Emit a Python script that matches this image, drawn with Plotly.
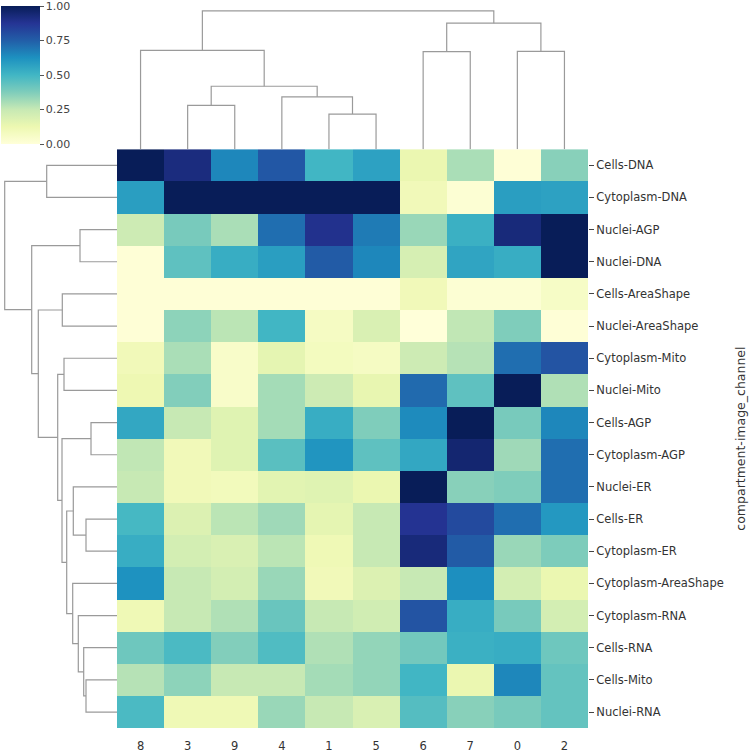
import plotly.graph_objects as go

# ---------------- data ----------------
col_labels = ["8", "3", "9", "4", "1", "5", "6", "7", "0", "2"]
row_labels = [
    "Cells-DNA", "Cytoplasm-DNA", "Nuclei-AGP", "Nuclei-DNA", "Cells-AreaShape",
    "Nuclei-AreaShape", "Cytoplasm-Mito", "Nuclei-Mito", "Cells-AGP", "Cytoplasm-AGP",
    "Nuclei-ER", "Cells-ER", "Cytoplasm-ER", "Cytoplasm-AreaShape", "Cytoplasm-RNA",
    "Cells-RNA", "Cells-Mito", "Nuclei-RNA",
]
values = [
    [1.00, 0.92, 0.65, 0.77, 0.50, 0.57, 0.13, 0.30, 0.01, 0.36],
    [0.58, 1.00, 1.00, 1.00, 1.00, 1.00, 0.10, 0.02, 0.58, 0.57],
    [0.23, 0.39, 0.30, 0.71, 0.89, 0.68, 0.33, 0.52, 0.93, 1.00],
    [0.01, 0.44, 0.53, 0.58, 0.76, 0.65, 0.20, 0.56, 0.53, 1.00],
    [0.01, 0.01, 0.01, 0.01, 0.01, 0.01, 0.10, 0.02, 0.02, 0.06],
    [0.01, 0.35, 0.27, 0.50, 0.07, 0.19, 0.00, 0.26, 0.375, 0.01],
    [0.10, 0.30, 0.05, 0.15, 0.08, 0.07, 0.23, 0.28, 0.71, 0.78],
    [0.12, 0.37, 0.05, 0.31, 0.23, 0.14, 0.72, 0.44, 1.00, 0.29],
    [0.55, 0.25, 0.17, 0.31, 0.53, 0.375, 0.64, 1.00, 0.39, 0.65],
    [0.26, 0.10, 0.17, 0.45, 0.61, 0.44, 0.55, 0.95, 0.32, 0.71],
    [0.25, 0.10, 0.09, 0.16, 0.17, 0.13, 1.00, 0.36, 0.375, 0.71],
    [0.49, 0.18, 0.27, 0.32, 0.15, 0.25, 0.88, 0.81, 0.71, 0.60],
    [0.53, 0.21, 0.19, 0.27, 0.11, 0.25, 0.93, 0.76, 0.33, 0.38],
    [0.62, 0.25, 0.21, 0.33, 0.10, 0.18, 0.25, 0.63, 0.21, 0.13],
    [0.11, 0.25, 0.29, 0.42, 0.25, 0.22, 0.78, 0.53, 0.39, 0.21],
    [0.41, 0.48, 0.37, 0.47, 0.29, 0.34, 0.40, 0.52, 0.53, 0.41],
    [0.28, 0.35, 0.25, 0.25, 0.31, 0.34, 0.50, 0.13, 0.65, 0.43],
    [0.48, 0.11, 0.11, 0.33, 0.25, 0.19, 0.46, 0.36, 0.39, 0.43],
]

# linkage rows: (child_a, child_b, height); leaves = display positions,
# new clusters get ids n, n+1, ... in order
col_linkage = [
    (1, 2, 44.0), (4, 5, 35.3), (3, 11, 52.7), (10, 12, 63.3), (0, 13, 99.3),
    (6, 7, 98.0), (8, 9, 98.3), (15, 16, 126.7), (14, 17, 139.0),
]
row_linkage = [
    (0, 1, 70.3), (2, 3, 37.0), (4, 5, 54.7), (6, 7, 53.0), (8, 9, 26.0),
    (11, 12, 31.0), (10, 23, 43.7), (16, 17, 31.0), (15, 25, 33.3), (14, 26, 38.7),
    (13, 27, 44.3), (24, 28, 50.3), (22, 29, 55.0), (21, 30, 59.3), (20, 31, 78.7),
    (19, 32, 85.3), (18, 33, 112.3),
]

colorscale = [
    [0.0, "#ffffd9"], [0.125, "#edf8b1"], [0.25, "#c7e9b4"], [0.375, "#7fcdbb"],
    [0.5, "#41b6c4"], [0.625, "#1d91c0"], [0.75, "#225ea8"], [0.875, "#253494"],
    [1.0, "#081d58"],
]
cbar_ticks = [0.0, 0.25, 0.5, 0.75, 1.0]


def dendro_segments(linkage, n):
    pos = {i: float(i) for i in range(n)}
    hgt = {i: 0.0 for i in range(n)}
    a_list, h_list = [], []
    for k, (a, b, h) in enumerate(linkage):
        cid = n + k
        a_list += [pos[a], pos[a], pos[b], pos[b], None]
        h_list += [hgt[a], h, h, hgt[b], None]
        pos[cid] = (pos[a] + pos[b]) / 2
        hgt[cid] = h
    return a_list, h_list


W, H = 750, 753
hm_x0, hm_x1 = 117 / W, 588 / W
hm_y0, hm_y1 = 1 - 732 / H, 1 - 150 / H

fig = go.Figure()

fig.add_trace(go.Heatmap(
    z=values, x=list(range(len(col_labels))), y=list(range(len(row_labels))),
    colorscale=colorscale, zmin=0, zmax=1, xgap=0, ygap=0,
    xaxis="x", yaxis="y",
    colorbar=dict(
        x=1 / W, xanchor="left", y=1 - 75.5 / H, yanchor="middle",
        len=139 / H, lenmode="fraction", thickness=39, thicknessmode="pixels",
        outlinewidth=0, xpad=0, ypad=0,
        tickvals=cbar_ticks,
        ticktext=[f"{t:.2f}" for t in cbar_ticks],
        ticklabeloverflow="allow",
        ticks="outside", ticklen=4, tickwidth=1, tickcolor="#555",
        tickfont=dict(family="DejaVu Sans", size=11, color="#444"),
    ),
    hovertemplate="%{z}<extra></extra>",
))

lc = dict(color="#9a9a9a", width=1.2)
cx, cy = dendro_segments(col_linkage, len(col_labels))
fig.add_trace(go.Scatter(x=cx, y=cy, mode="lines", line=lc, xaxis="x", yaxis="y2",
                         hoverinfo="skip", showlegend=False))
ry, rx = dendro_segments(row_linkage, len(row_labels))
fig.add_trace(go.Scatter(x=rx, y=ry, mode="lines", line=lc, xaxis="x3", yaxis="y",
                         hoverinfo="skip", showlegend=False))

tf = dict(family="DejaVu Sans", size=11.5, color="#333")
fig.update_layout(
    width=W, height=H, margin=dict(l=0, r=0, t=0, b=0),
    paper_bgcolor="white", plot_bgcolor="white", showlegend=False,
    xaxis=dict(domain=[hm_x0, hm_x1], range=[-0.5, len(col_labels) - 0.5],
               tickvals=list(range(len(col_labels))), ticktext=col_labels,
               ticks="outside", ticklen=7, tickcolor="rgba(0,0,0,0)",
               showgrid=False, zeroline=False, showline=False, tickfont=tf,
               anchor="y"),
    yaxis=dict(domain=[hm_y0, hm_y1], range=[len(row_labels) - 0.5, -0.5],
               tickvals=list(range(len(row_labels))), ticktext=row_labels,
               side="right", ticks="outside", ticklen=5, tickwidth=1, tickcolor="#444",
               showgrid=False, zeroline=False, showline=False, tickfont=tf,
               anchor="x"),
    yaxis2=dict(domain=[hm_y1, 1.0], range=[0, 150], visible=False, anchor="x"),
    xaxis3=dict(domain=[0, hm_x0], range=[117, 0], visible=False, anchor="y"),
)

fig.add_annotation(
    text="compartment-image_channel", textangle=-90, showarrow=False,
    xref="paper", yref="paper", x=741 / W, y=(hm_y0 + hm_y1) / 2,
    xanchor="center", yanchor="middle",
    font=dict(family="DejaVu Sans", size=12.5, color="#333"),
)

fig.write_html(
    "out.html",
    config={"displayModeBar": False},
    post_script="document.body.style.margin='0px';document.body.style.overflow='hidden';",
)
